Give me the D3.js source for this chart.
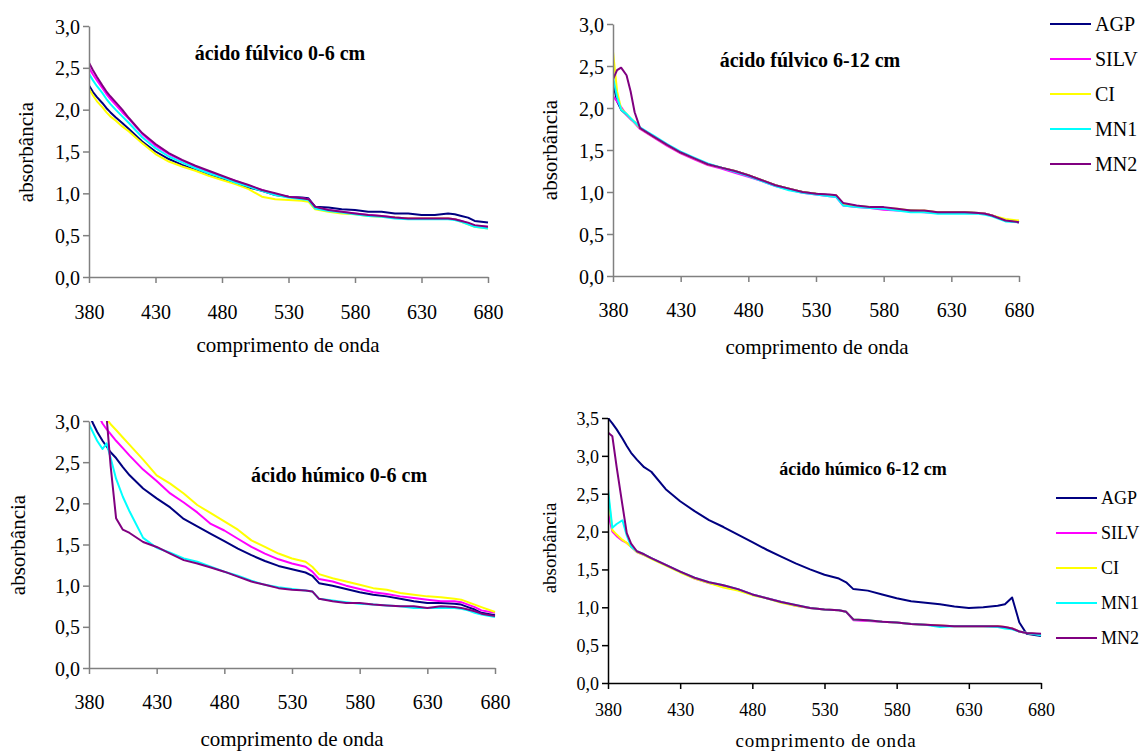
<!DOCTYPE html>
<html>
<head>
  <script src="https://d3js.org/d3.v7.min.js"></script>
  <style>
    body { margin: 0; background: #fff; }
    svg, svg text { font-family: "Liberation Serif", "DejaVu Serif", "Times New Roman", serif; }
  </style>
</head>
<body>
<svg width="1147" height="751" font-family="Liberation Serif, DejaVu Serif, serif"></svg>
<script>
  // wavelengths (nm) shared by every series
  var wavelengths = [380, 383, 386, 390, 393, 396, 400, 405, 410, 420, 430, 440, 450, 460, 470, 480, 490, 500, 510, 520,
    530, 540, 545, 550, 560, 570, 580, 590, 600, 610, 620, 630, 640, 650, 655, 660, 665, 670, 680];

  var seriesNames = ["AGP", "SILV", "CI", "MN1", "MN2"];
  var xTicks = [380, 430, 480, 530, 580, 630, 680];

  // ácido fúlvico 0-6 cm
  var af06_AGP = [2.29, 2.21, 2.15, 2.08, 2.02, 1.97, 1.91, 1.84, 1.77, 1.62, 1.50, 1.41, 1.34, 1.28, 1.22, 1.17, 1.12, 1.07, 1.03, 0.98,
    0.96, 0.95, 0.94, 0.84, 0.83, 0.81, 0.80, 0.78, 0.78, 0.76, 0.76, 0.74, 0.74, 0.76, 0.75, 0.73, 0.71, 0.67, 0.65];
  var af06_SILV = [2.50, 2.42, 2.35, 2.26, 2.19, 2.13, 2.06, 1.97, 1.89, 1.71, 1.57, 1.47, 1.39, 1.32, 1.26, 1.20, 1.15, 1.09, 1.04, 0.99,
    0.96, 0.94, 0.93, 0.83, 0.80, 0.78, 0.76, 0.74, 0.73, 0.71, 0.70, 0.70, 0.70, 0.70, 0.69, 0.67, 0.64, 0.61, 0.60];
  var af06_CI = [2.25, 2.17, 2.10, 2.03, 1.97, 1.92, 1.87, 1.80, 1.74, 1.60, 1.47, 1.38, 1.32, 1.27, 1.21, 1.16, 1.11, 1.05, 0.96, 0.93,
    0.92, 0.91, 0.90, 0.81, 0.78, 0.76, 0.75, 0.73, 0.72, 0.71, 0.70, 0.70, 0.70, 0.70, 0.69, 0.66, 0.63, 0.60, 0.58];
  var af06_MN1 = [2.43, 2.35, 2.28, 2.20, 2.13, 2.07, 2.00, 1.92, 1.84, 1.67, 1.54, 1.44, 1.37, 1.30, 1.24, 1.19, 1.13, 1.08, 1.03, 0.98,
    0.95, 0.93, 0.92, 0.82, 0.79, 0.77, 0.75, 0.73, 0.72, 0.70, 0.69, 0.69, 0.69, 0.69, 0.68, 0.66, 0.63, 0.60, 0.58];
  var af06_MN2 = [2.56, 2.47, 2.39, 2.29, 2.22, 2.16, 2.09, 2.00, 1.90, 1.72, 1.59, 1.48, 1.40, 1.33, 1.27, 1.21, 1.15, 1.10, 1.04, 1.00,
    0.96, 0.94, 0.93, 0.84, 0.80, 0.78, 0.76, 0.74, 0.73, 0.71, 0.70, 0.70, 0.70, 0.70, 0.69, 0.67, 0.65, 0.62, 0.60];

  // ácido fúlvico 6-12 cm
  var af612_AGP = [2.30, 2.08, 1.98, 1.92, 1.87, 1.83, 1.76, 1.71, 1.66, 1.56, 1.47, 1.40, 1.33, 1.29, 1.25, 1.20, 1.14, 1.08, 1.04, 1.00,
    0.98, 0.96, 0.95, 0.86, 0.83, 0.82, 0.81, 0.79, 0.78, 0.77, 0.76, 0.76, 0.76, 0.75, 0.74, 0.72, 0.69, 0.66, 0.64];
  var af612_SILV = [2.14, 2.08, 2.01, 1.92, 1.87, 1.82, 1.75, 1.70, 1.65, 1.55, 1.46, 1.39, 1.32, 1.28, 1.23, 1.18, 1.13, 1.07, 1.03, 0.99,
    0.97, 0.95, 0.94, 0.84, 0.82, 0.81, 0.79, 0.78, 0.77, 0.76, 0.75, 0.75, 0.75, 0.75, 0.74, 0.72, 0.69, 0.66, 0.64];
  var af612_CI = [2.67, 2.20, 1.99, 1.93, 1.88, 1.83, 1.76, 1.71, 1.66, 1.56, 1.47, 1.40, 1.33, 1.29, 1.25, 1.20, 1.14, 1.08, 1.04, 1.00,
    0.98, 0.96, 0.96, 0.86, 0.83, 0.82, 0.81, 0.80, 0.78, 0.78, 0.76, 0.76, 0.76, 0.75, 0.74, 0.72, 0.70, 0.68, 0.66];
  var af612_MN1 = [2.37, 2.13, 1.98, 1.93, 1.88, 1.83, 1.77, 1.72, 1.67, 1.57, 1.48, 1.41, 1.34, 1.29, 1.24, 1.19, 1.13, 1.07, 1.02, 0.99,
    0.97, 0.95, 0.94, 0.84, 0.82, 0.81, 0.80, 0.78, 0.76, 0.76, 0.74, 0.74, 0.74, 0.74, 0.73, 0.71, 0.68, 0.65, 0.64];
  var af612_MN2 = [2.34, 2.45, 2.48, 2.39, 2.20, 1.95, 1.76, 1.71, 1.66, 1.56, 1.47, 1.40, 1.33, 1.29, 1.25, 1.20, 1.14, 1.08, 1.04, 1.00,
    0.98, 0.97, 0.96, 0.87, 0.84, 0.82, 0.82, 0.80, 0.78, 0.78, 0.76, 0.76, 0.76, 0.75, 0.74, 0.72, 0.69, 0.66, 0.64];

  // ácido húmico 0-6 cm
  var ah06_AGP = [3.08, 2.97, 2.87, 2.76, 2.69, 2.62, 2.55, 2.44, 2.34, 2.18, 2.06, 1.95, 1.81, 1.72, 1.63, 1.54, 1.45, 1.37, 1.30, 1.24,
    1.20, 1.16, 1.12, 1.03, 1.00, 0.96, 0.92, 0.89, 0.87, 0.84, 0.81, 0.79, 0.79, 0.78, 0.77, 0.74, 0.71, 0.67, 0.64];
  var ah06_SILV = [3.40, 3.25, 3.10, 2.97, 2.90, 2.84, 2.76, 2.67, 2.58, 2.41, 2.27, 2.12, 2.01, 1.89, 1.75, 1.67, 1.57, 1.47, 1.39, 1.32,
    1.27, 1.23, 1.17, 1.08, 1.05, 1.00, 0.96, 0.92, 0.90, 0.87, 0.85, 0.83, 0.81, 0.81, 0.80, 0.77, 0.74, 0.70, 0.67];
  var ah06_CI = [3.55, 3.40, 3.27, 3.12, 3.03, 2.96, 2.89, 2.80, 2.71, 2.53, 2.34, 2.24, 2.12, 1.98, 1.88, 1.78, 1.68, 1.55, 1.47, 1.39,
    1.33, 1.29, 1.23, 1.14, 1.09, 1.05, 1.01, 0.97, 0.95, 0.91, 0.89, 0.87, 0.86, 0.84, 0.83, 0.80, 0.77, 0.74, 0.68];
  var ah06_MN1 = [2.96, 2.86, 2.76, 2.66, 2.73, 2.55, 2.30, 2.08, 1.90, 1.58, 1.46, 1.40, 1.33, 1.29, 1.23, 1.17, 1.12, 1.06, 1.01, 0.98,
    0.96, 0.94, 0.93, 0.84, 0.82, 0.80, 0.78, 0.77, 0.76, 0.75, 0.73, 0.73, 0.73, 0.73, 0.72, 0.70, 0.67, 0.65, 0.62];
  var ah06_MN2 = [3.40, 3.35, 3.28, 3.18, 3.05, 2.45, 1.82, 1.68, 1.64, 1.53, 1.47, 1.39, 1.31, 1.27, 1.22, 1.17, 1.11, 1.05, 1.01, 0.97,
    0.95, 0.94, 0.93, 0.84, 0.81, 0.79, 0.79, 0.77, 0.76, 0.75, 0.75, 0.73, 0.75, 0.74, 0.73, 0.71, 0.69, 0.66, 0.63];

  // ácido húmico 6-12 cm
  var ah612_AGP = [3.50, 3.43, 3.35, 3.23, 3.13, 3.04, 2.95, 2.85, 2.79, 2.56, 2.40, 2.27, 2.15, 2.06, 1.96, 1.86, 1.76, 1.67, 1.58, 1.50,
    1.43, 1.38, 1.33, 1.24, 1.22, 1.17, 1.12, 1.08, 1.06, 1.04, 1.01, 0.99, 1.00, 1.02, 1.04, 1.13, 0.80, 0.65, 0.62];
  var ah612_SILV = [2.25, 2.00, 1.94, 1.88, 1.85, 1.80, 1.73, 1.69, 1.65, 1.56, 1.47, 1.38, 1.32, 1.28, 1.24, 1.17, 1.12, 1.07, 1.02, 0.99,
    0.97, 0.96, 0.94, 0.83, 0.82, 0.81, 0.80, 0.78, 0.77, 0.76, 0.75, 0.75, 0.75, 0.75, 0.74, 0.72, 0.68, 0.66, 0.64];
  var ah612_CI = [2.50, 2.02, 1.96, 1.89, 1.85, 1.80, 1.73, 1.69, 1.64, 1.55, 1.46, 1.38, 1.32, 1.26, 1.22, 1.16, 1.12, 1.06, 1.02, 0.99,
    0.97, 0.96, 0.94, 0.84, 0.83, 0.81, 0.80, 0.78, 0.77, 0.76, 0.75, 0.75, 0.75, 0.75, 0.74, 0.72, 0.68, 0.66, 0.64];
  var ah612_MN1 = [2.56, 2.05, 2.10, 2.15, 1.95, 1.80, 1.74, 1.70, 1.65, 1.56, 1.47, 1.39, 1.33, 1.29, 1.24, 1.17, 1.12, 1.07, 1.03, 0.99,
    0.97, 0.96, 0.94, 0.84, 0.83, 0.81, 0.80, 0.78, 0.77, 0.74, 0.75, 0.75, 0.75, 0.74, 0.72, 0.71, 0.68, 0.66, 0.63];
  var ah612_MN2 = [3.31, 3.26, 2.85, 2.35, 1.98, 1.84, 1.74, 1.70, 1.65, 1.56, 1.47, 1.39, 1.33, 1.29, 1.24, 1.17, 1.12, 1.07, 1.03, 0.99,
    0.97, 0.96, 0.94, 0.84, 0.83, 0.81, 0.80, 0.78, 0.77, 0.76, 0.75, 0.75, 0.75, 0.75, 0.74, 0.72, 0.68, 0.66, 0.65];

  var serif = "Liberation Serif, DejaVu Serif, serif";

  var color = d3.scaleOrdinal()
    .domain(seriesNames)
    .range(["#000080", "#ff00ff", "#ffff00", "#00ffff", "#800080"]);

  var svg = d3.select("svg");
  svg.append("rect").attr("width", 1147).attr("height", 751).attr("fill", "#fff");

  var fmt = function (d) { return d3.format(".1f")(d).replace(".", ","); };

  var panels = [
    { title: "ácido fúlvico 0-6 cm", series: [af06_AGP, af06_SILV, af06_CI, af06_MN1, af06_MN2],
      x0: 89, x1: 488, yTop: 26, yBot: 277, yMax: 3, tickY: 312,
      titleX: 280, titleY: 53, xLabX: 288, xLabY: 345, yLabX: 26, yLabY: 152,
      font: 20, axisColor: "#808080", legend: null },
    { title: "ácido fúlvico 6-12 cm", series: [af612_AGP, af612_SILV, af612_CI, af612_MN1, af612_MN2],
      x0: 613, x1: 1019, yTop: 24, yBot: 276, yMax: 3, tickY: 310,
      titleX: 810, titleY: 60, xLabX: 817, xLabY: 347, yLabX: 550, yLabY: 150,
      font: 20, axisColor: "#808080", legend: { x: 1050, y: 24, step: 35 } },
    { title: "ácido húmico 0-6 cm", series: [ah06_AGP, ah06_SILV, ah06_CI, ah06_MN1, ah06_MN2],
      x0: 89, x1: 495, yTop: 421, yBot: 668, yMax: 3, tickY: 702,
      titleX: 339, titleY: 475, xLabX: 292, xLabY: 739, yLabX: 18, yLabY: 545,
      font: 20, axisColor: "#808080", legend: null },
    { title: "ácido húmico 6-12 cm", series: [ah612_AGP, ah612_SILV, ah612_CI, ah612_MN1, ah612_MN2],
      x0: 608, x1: 1041, yTop: 418, yBot: 683, yMax: 3.5, tickY: 710,
      titleX: 863, titleY: 469, xLabX: 826, xLabY: 740, yLabX: 549, yLabY: 548,
      font: 18, axisColor: "#000", legend: { x: 1056, y: 498, step: 35 } }
  ];

  panels.forEach(function (p, pi) {
    var x = d3.scaleLinear().domain([380, 680]).range([p.x0, p.x1]);
    var y = d3.scaleLinear().domain([0, p.yMax]).range([p.yBot, p.yTop]);
    var g = svg.append("g").attr("font-family", serif);

    g.append("clipPath").attr("id", "clip" + pi)
      .append("rect")
      .attr("x", p.x0).attr("y", p.yTop)
      .attr("width", p.x1 - p.x0 + 2).attr("height", p.yBot - p.yTop);

    var line = d3.line()
      .x(function (d, i) { return x(wavelengths[i]); })
      .y(function (d) { return y(d); });

    g.append("g").attr("clip-path", "url(#clip" + pi + ")")
      .selectAll("path")
      .data(p.series)
      .join("path")
      .attr("d", line)
      .attr("fill", "none")
      .attr("stroke", function (d, i) { return color(seriesNames[i]); })
      .attr("stroke-width", 2)
      .attr("stroke-linejoin", "round");

    // axes
    var xAxis = g.append("g")
      .attr("transform", "translate(0," + p.yBot + ")")
      .call(d3.axisBottom(x).tickValues(xTicks).tickSize(6).tickSizeOuter(0).tickFormat(d3.format("d")));
    xAxis.selectAll("text")
      .attr("y", p.tickY - p.yBot).attr("dy", "0.35em");

    var yAxis = g.append("g")
      .attr("transform", "translate(" + p.x0 + ",0)")
      .call(d3.axisLeft(y).tickValues(d3.range(0, p.yMax + 0.01, 0.5)).tickSize(6).tickSizeOuter(0).tickFormat(fmt));
    yAxis.selectAll("text")
      .attr("x", -9).attr("dy", "0.35em");

    [xAxis, yAxis].forEach(function (a) {
      a.attr("font-family", serif).attr("font-size", p.font);
      a.selectAll("path, line").attr("stroke", p.axisColor).attr("stroke-width", 1.5);
      a.selectAll("text").attr("fill", "#000").attr("font-family", serif);
    });

    // labels
    g.append("text")
      .attr("x", p.titleX).attr("y", p.titleY).attr("dy", "0.35em")
      .attr("text-anchor", "middle")
      .attr("font-family", serif)
      .attr("font-weight", "bold").attr("font-size", p.font)
      .text(p.title);

    g.append("text")
      .attr("x", p.xLabX).attr("y", p.xLabY).attr("dy", "0.35em")
      .attr("text-anchor", "middle")
      .attr("font-family", serif)
      .attr("font-size", p.font + 1)
      .attr("letter-spacing", pi === 3 ? 0.8 : 0)
      .text("comprimento de onda");

    g.append("text")
      .attr("transform", "translate(" + p.yLabX + "," + p.yLabY + ") rotate(-90)")
      .attr("dy", "0.35em")
      .attr("text-anchor", "middle")
      .attr("font-family", serif)
      .attr("font-size", p.font + 1)
      .text("absorbância");

    if (p.legend) {
      var lg = g.append("g").selectAll("g")
        .data(seriesNames)
        .join("g")
        .attr("transform", function (d, i) { return "translate(" + p.legend.x + "," + (p.legend.y + i * p.legend.step) + ")"; });
      lg.append("line")
        .attr("x1", 0).attr("x2", 41)
        .attr("stroke", function (d) { return color(d); })
        .attr("stroke-width", 2);
      lg.append("text")
        .attr("x", 45).attr("dy", "0.35em")
        .attr("font-family", serif)
        .attr("font-size", p.font)
        .text(function (d) { return d; });
    }
  });
</script>
</body>
</html>
